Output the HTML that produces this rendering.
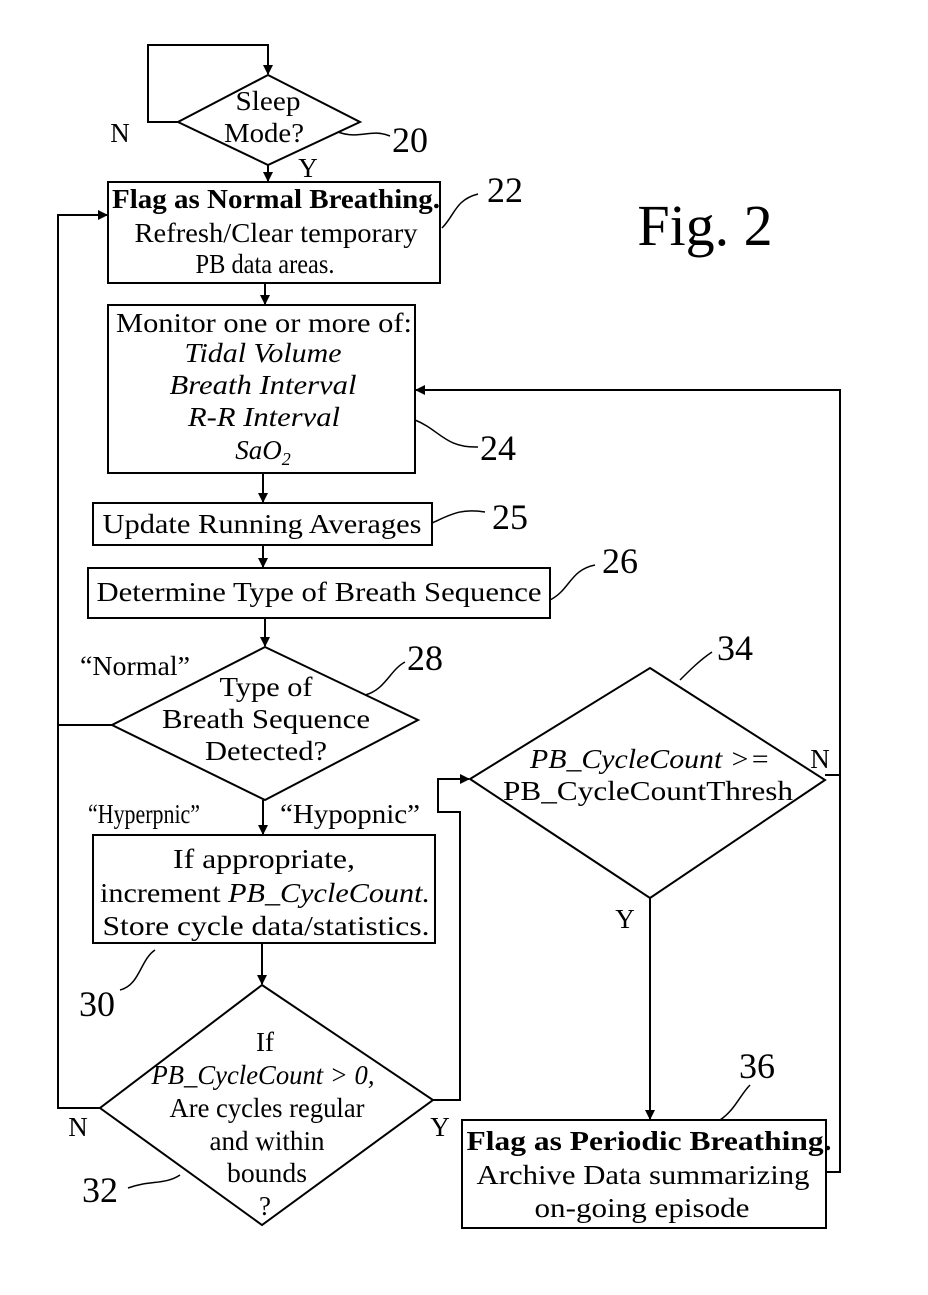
<!DOCTYPE html><html><head><style>body{margin:0;background:#fff}svg{display:block}text{font-family:"Liberation Serif",serif;fill:#000}</style></head><body>
<svg width="928" height="1295" viewBox="0 0 928 1295" xmlns="http://www.w3.org/2000/svg">
<defs><marker id="a" markerWidth="10" markerHeight="10" refX="9" refY="5" orient="auto" markerUnits="userSpaceOnUse"><path d="M0,0 L10,5 L0,10 z" fill="#000"/></marker></defs>
<g stroke="#000" stroke-width="2" fill="none">
<polyline points="178,122 148,122 148,45 268,45 268,74" marker-end="url(#a)"/>
<polygon points="268,75 360,122 268,165 178,122"/>
<line x1="268" y1="165" x2="268" y2="181" marker-end="url(#a)"/>
<rect x="108" y="182" width="332" height="101"/>
<line x1="265" y1="283" x2="265" y2="304" marker-end="url(#a)"/>
<rect x="108" y="305" width="307" height="168"/>
<line x1="263" y1="473" x2="263" y2="502" marker-end="url(#a)"/>
<rect x="93" y="503" width="339" height="42"/>
<line x1="263" y1="545" x2="263" y2="567" marker-end="url(#a)"/>
<rect x="88" y="568" width="462" height="50"/>
<line x1="265" y1="618" x2="265" y2="646" marker-end="url(#a)"/>
<polygon points="265,647 418,720 265,800 112,725"/>
<polyline points="112,725 58,725"/>
<polyline points="100,1108 58,1108 58,215 107,215" marker-end="url(#a)"/>
<line x1="263" y1="800" x2="263" y2="834" marker-end="url(#a)"/>
<rect x="93" y="835" width="342" height="108"/>
<line x1="262" y1="943" x2="262" y2="984" marker-end="url(#a)"/>
<polygon points="262,985 433,1100 262,1225 100,1108"/>
<polyline points="433,1100 460,1100 460,812 438,812 438,779 469,779" marker-end="url(#a)"/>
<polygon points="650,668 825,780 650,898 470,779"/>
<polyline points="825,775 840,775 840,390 416,390" marker-end="url(#a)"/>
<polyline points="826,1172 840,1172 840,775"/>
<line x1="650" y1="898" x2="650" y2="1119" marker-end="url(#a)"/>
<rect x="462" y="1120" width="364" height="108"/>
<path d="M338,132 C360,140 370,128 390,136" stroke-width="1.5"/>
<path d="M442,228 C455,215 455,200 478,194" stroke-width="1.5"/>
<path d="M415,420 C440,430 445,448 478,447" stroke-width="1.5"/>
<path d="M432,523 C450,515 460,508 485,512" stroke-width="1.5"/>
<path d="M550,600 C570,590 570,570 595,565" stroke-width="1.5"/>
<path d="M365,695 C385,690 390,670 405,662" stroke-width="1.5"/>
<path d="M680,680 C690,670 700,660 712,652" stroke-width="1.5"/>
<path d="M155,950 C140,960 140,985 120,990" stroke-width="1.5"/>
<path d="M180,1175 C165,1185 150,1180 128,1188" stroke-width="1.5"/>
<path d="M720,1120 C735,1110 740,1095 750,1085" stroke-width="1.5"/>
</g>
<g font-size="27" text-anchor="middle">
<text x="268" y="110" textLength="65" lengthAdjust="spacingAndGlyphs">Sleep</text><text x="264" y="142" textLength="80" lengthAdjust="spacingAndGlyphs">Mode?</text>
<text x="120" y="142">N</text><text x="308" y="177">Y</text>
<text x="410" y="152" font-size="36">20</text>
<text x="276" y="208" font-weight="bold" textLength="328" lengthAdjust="spacingAndGlyphs">Flag as Normal Breathing.</text>
<text x="276" y="242" textLength="283" lengthAdjust="spacingAndGlyphs">Refresh/Clear temporary</text><text x="265" y="273" textLength="139" lengthAdjust="spacingAndGlyphs">PB data areas.</text>
<text x="505" y="202" font-size="36">22</text>
<text x="705" y="245" font-size="58">Fig. 2</text>
<text x="264" y="332" textLength="296" lengthAdjust="spacingAndGlyphs">Monitor one or more of:</text>
<text x="263" y="362" font-style="italic" textLength="157" lengthAdjust="spacingAndGlyphs">Tidal Volume</text>
<text x="263" y="394" font-style="italic" textLength="187" lengthAdjust="spacingAndGlyphs">Breath Interval</text>
<text x="264" y="426" font-style="italic" textLength="152" lengthAdjust="spacingAndGlyphs">R-R Interval</text>
<text x="263" y="459" font-style="italic">SaO<tspan font-size="18" dy="6">2</tspan></text>
<text x="498" y="460" font-size="36">24</text>
<text x="262" y="533" textLength="319" lengthAdjust="spacingAndGlyphs">Update Running Averages</text>
<text x="510" y="529" font-size="36">25</text>
<text x="319" y="601" textLength="445" lengthAdjust="spacingAndGlyphs">Determine Type of Breath Sequence</text>
<text x="620" y="573" font-size="36">26</text>
<text x="135" y="675" textLength="110" lengthAdjust="spacingAndGlyphs">“Normal”</text>
<text x="266" y="696" textLength="93" lengthAdjust="spacingAndGlyphs">Type of</text><text x="266" y="728" textLength="208" lengthAdjust="spacingAndGlyphs">Breath Sequence</text><text x="266" y="760" textLength="122" lengthAdjust="spacingAndGlyphs">Detected?</text>
<text x="425" y="670" font-size="36">28</text>
<text x="144" y="823" textLength="112" lengthAdjust="spacingAndGlyphs">“Hyperpnic”</text><text x="350" y="823" textLength="140" lengthAdjust="spacingAndGlyphs">“Hypopnic”</text>
<text x="264" y="868" textLength="182" lengthAdjust="spacingAndGlyphs">If appropriate,</text>
<text x="265" y="902" textLength="330" lengthAdjust="spacingAndGlyphs">increment <tspan font-style="italic">PB_CycleCount.</tspan></text>
<text x="266" y="935" textLength="327" lengthAdjust="spacingAndGlyphs">Store cycle data/statistics.</text>
<text x="97" y="1016" font-size="36">30</text>
<text x="265" y="1051">If</text>
<text x="263" y="1084" font-style="italic" textLength="223" lengthAdjust="spacingAndGlyphs">PB_CycleCount &gt; 0,</text>
<text x="267" y="1117" textLength="195" lengthAdjust="spacingAndGlyphs">Are cycles regular</text><text x="267" y="1150" textLength="115" lengthAdjust="spacingAndGlyphs">and within</text>
<text x="267" y="1182" textLength="80" lengthAdjust="spacingAndGlyphs">bounds</text><text x="265" y="1215">?</text>
<text x="78" y="1136">N</text><text x="440" y="1136">Y</text>
<text x="100" y="1202" font-size="36">32</text>
<text x="735" y="660" font-size="36">34</text>
<text x="650" y="768" font-style="italic" textLength="240" lengthAdjust="spacingAndGlyphs">PB_CycleCount &gt;=</text>
<text x="648" y="800" textLength="290" lengthAdjust="spacingAndGlyphs">PB_CycleCountThresh</text>
<text x="820" y="768">N</text><text x="625" y="928">Y</text>
<text x="757" y="1078" font-size="36">36</text>
<text x="649" y="1150" font-weight="bold" textLength="365" lengthAdjust="spacingAndGlyphs">Flag as Periodic Breathing.</text>
<text x="643" y="1184" textLength="333" lengthAdjust="spacingAndGlyphs">Archive Data summarizing</text>
<text x="642" y="1217" textLength="215" lengthAdjust="spacingAndGlyphs">on-going episode</text>
</g>
</svg></body></html>
